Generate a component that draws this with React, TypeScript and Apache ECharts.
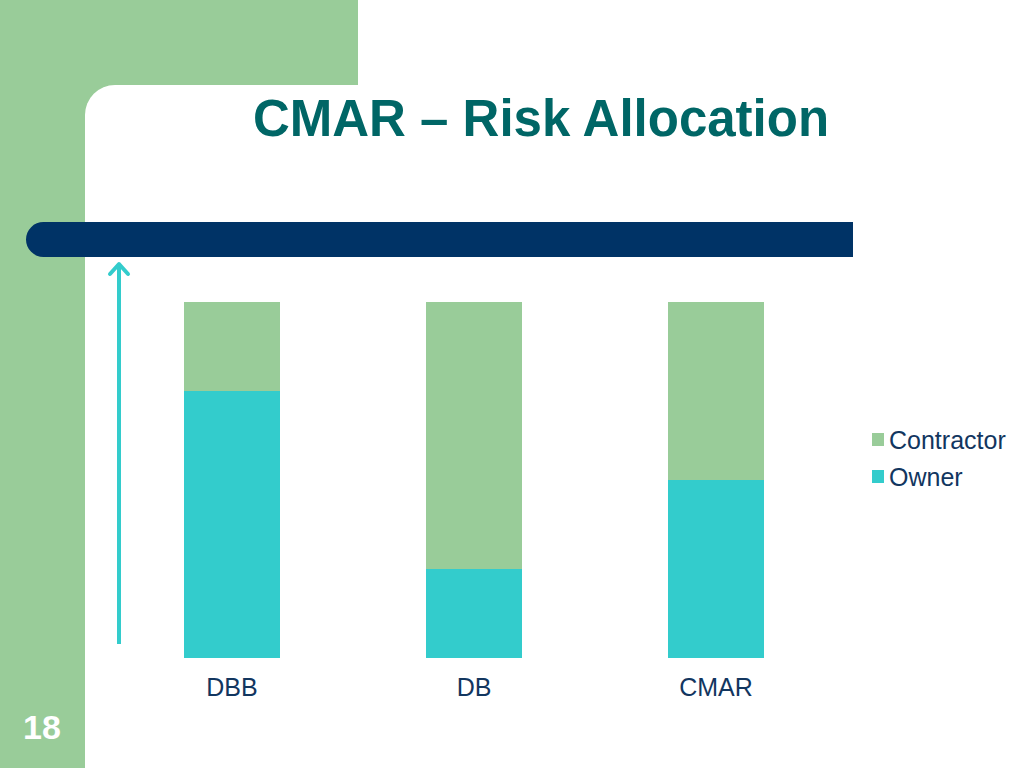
import React, { useEffect, useRef } from "react";
import * as echarts from "echarts";

const categories = ["DBB", "DB", "CMAR"];
const ownerValues = [75, 25, 50];
const contractorValues = [25, 75, 50];
const titleText = "CMAR – Risk Allocation";
const slideNumber = "18";

const GREEN = "#99CC99";
const CYAN = "#33CCCC";
const NAVY = "#003366";
const TEXT_NAVY = "#12365F";
const TITLE = "#006666";

export default function App() {
  const ref = useRef<HTMLDivElement>(null);
  useEffect(() => {
    if (!ref.current) return;
    const chart = echarts.init(ref.current, null, { renderer: "svg" });
    chart.setOption({
      animation: false,
      backgroundColor: GREEN,
      grid: { left: 111, right: 187, top: 302, bottom: 110 },
      legend: {
        data: ["Contractor", "Owner"],
        orient: "vertical",
        left: 872,
        top: 427,
        padding: 0,
        itemWidth: 12,
        itemHeight: 13,
        itemGap: 12,
        icon: "rect",
        textStyle: { color: TEXT_NAVY, fontSize: 25, fontFamily: "Liberation Sans" },
      },
      xAxis: {
        type: "category",
        data: categories,
        axisLine: { show: false },
        axisTick: { show: false },
        axisLabel: { color: TEXT_NAVY, fontSize: 25, margin: 16, fontFamily: "Liberation Sans" },
      },
      yAxis: { type: "value", min: 0, max: 100, show: false, splitLine: { show: false } },
      graphic: [
        { type: "rect", z: 0, shape: { x: 358, y: 0, width: 666, height: 100 }, style: { fill: "#ffffff" } },
        { type: "rect", z: 0, shape: { x: 85, y: 85, width: 939, height: 683, r: [30, 0, 0, 0] }, style: { fill: "#ffffff" } },
        { type: "rect", z: 1, shape: { x: 26, y: 222, width: 827, height: 35, r: [17.5, 0, 0, 17.5] }, style: { fill: NAVY } },
        { type: "line", z: 1, shape: { x1: 119, y1: 644, x2: 119, y2: 264 }, style: { stroke: CYAN, lineWidth: 4 } },
        { type: "polyline", z: 1, shape: { points: [[110, 274], [119, 264], [128, 274]] }, style: { stroke: CYAN, lineWidth: 4, fill: null, lineCap: "round", lineJoin: "round" } },
        { type: "text", z: 1, style: { x: 541, y: 118, text: titleText, textAlign: "center", textVerticalAlign: "middle", fill: TITLE, font: "bold 51px 'Liberation Sans'" } },
        { type: "text", z: 1, style: { x: 42, y: 727, text: slideNumber, textAlign: "center", textVerticalAlign: "middle", fill: "#ffffff", font: "bold 34px 'Liberation Sans'" } },
      ],
      series: [
        { name: "Owner", type: "bar", stack: "total", data: ownerValues, barWidth: 96, itemStyle: { color: CYAN }, z: 3 },
        { name: "Contractor", type: "bar", stack: "total", data: contractorValues, barWidth: 96, itemStyle: { color: GREEN }, z: 3 },
      ],
    });
    return () => chart.dispose();
  }, []);
  return <div ref={ref} style={{ position: "absolute", left: 0, top: 0, width: 1024, height: 768 }} />;
}
